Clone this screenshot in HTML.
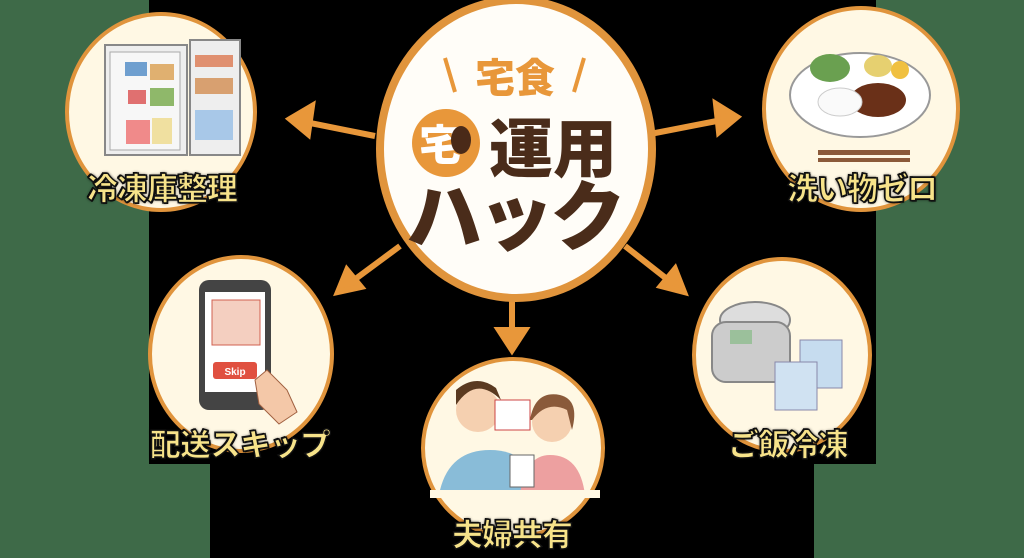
<!DOCTYPE html>
<html><head><meta charset="utf-8"><style>
body{margin:0;width:1024px;height:558px;overflow:hidden;background:#3e6a48;position:relative;font-family:"Liberation Sans","Noto Sans CJK JP",sans-serif}
.b{position:absolute;background:#000}
.c{position:absolute;border-radius:50%;background:#fff8e4;border:4px solid #e0943c;box-sizing:border-box}
.l{position:absolute;font-family:"Noto Sans CJK JP",sans-serif;font-weight:900;color:#f7e38a;font-size:31px;-webkit-text-stroke:1.5px #111;text-shadow:0 0 3px #000,1px 1px 0 #000,-1px -1px 0 #000;white-space:nowrap;transform:translateX(-50%);letter-spacing:-1px;line-height:1.2}
</style></head><body>
<div class="b" style="left:149px;top:0;width:727px;height:464px"></div>
<div class="b" style="left:210px;top:464px;width:604px;height:94px"></div>
<svg style="position:absolute;left:0;top:0" width="1024" height="558">
<g stroke="#e8973a" stroke-width="6" fill="#e8973a">
<line x1="375" y1="136" x2="305" y2="122"/><polygon points="290,119 312,106 308,134"/>
<line x1="650" y1="134" x2="722" y2="120"/><polygon points="737,117 716,104 719,132"/>
<line x1="400" y1="246" x2="350" y2="283"/><polygon points="338,292 347,270 361,287"/>
<line x1="625" y1="246" x2="672" y2="283"/><polygon points="684,292 661,286 675,269"/>
<line x1="512" y1="298" x2="512" y2="335"/><polygon points="512,350 499,330 525,330"/>
</g></svg>
<div class="c" style="left:65px;top:12px;width:192px;height:200px"></div>
<div class="c" style="left:762px;top:6px;width:198px;height:206px"></div>
<div class="c" style="left:148px;top:255px;width:186px;height:198px"></div>
<div class="c" style="left:692px;top:257px;width:180px;height:196px"></div>
<div class="c" style="left:421px;top:357px;width:184px;height:182px"></div>
<div class="c" style="left:376px;top:-4px;width:280px;height:306px;border-width:8px;background:#fffdf8"></div>
<svg style="position:absolute;left:0;top:0" width="1024" height="558">
<rect x="105" y="45" width="82" height="110" fill="#eee" stroke="#888" stroke-width="2"/>
<rect x="110" y="52" width="70" height="98" fill="#f7f7f7" stroke="#aaa"/>
<rect x="125" y="62" width="22" height="14" fill="#6f9fcf"/><rect x="150" y="64" width="24" height="16" fill="#e0b070"/>
<rect x="128" y="90" width="18" height="14" fill="#e07070"/><rect x="150" y="88" width="24" height="18" fill="#8fb86a"/>
<rect x="126" y="120" width="24" height="24" fill="#f08a8a"/><rect x="152" y="118" width="20" height="26" fill="#f0e0a0"/>
<rect x="190" y="40" width="50" height="115" fill="#eee" stroke="#888" stroke-width="2"/>
<rect x="195" y="55" width="38" height="12" fill="#e09070"/><rect x="195" y="78" width="38" height="16" fill="#d8a070"/>
<rect x="195" y="110" width="38" height="30" fill="#a8c8e8"/>
<ellipse cx="860" cy="95" rx="70" ry="42" fill="#fff" stroke="#999" stroke-width="2"/>
<ellipse cx="830" cy="68" rx="20" ry="14" fill="#6aa050"/><ellipse cx="878" cy="66" rx="14" ry="11" fill="#e6d070"/><circle cx="900" cy="70" r="9" fill="#f0c040"/>
<ellipse cx="878" cy="100" rx="28" ry="17" fill="#6a3018"/><ellipse cx="840" cy="102" rx="22" ry="14" fill="#fafafa" stroke="#ccc"/>
<rect x="818" y="150" width="92" height="5" fill="#8b5a3a"/><rect x="818" y="158" width="92" height="4" fill="#8b5a3a"/>
<rect x="199" y="280" width="72" height="130" rx="10" fill="#444"/><rect x="205" y="292" width="60" height="100" fill="#fff"/>
<rect x="212" y="300" width="48" height="45" fill="#f4cfc0" stroke="#d06050"/>
<rect x="213" y="362" width="44" height="17" rx="3" fill="#e05040"/>
<text x="235" y="375" font-size="10" fill="#fff" text-anchor="middle" font-weight="bold">Skip</text>
<path d="M255 380 l12 -10 l20 20 l10 22 l-18 12 l-20 -20z" fill="#f4c8a8" stroke="#a06040"/>
<ellipse cx="755" cy="320" rx="35" ry="18" fill="#ddd" stroke="#888" stroke-width="2"/>
<rect x="712" y="322" width="78" height="60" rx="14" fill="#ccc" stroke="#888" stroke-width="2"/>
<rect x="730" y="330" width="22" height="14" fill="#9bc09b"/>
<rect x="800" y="340" width="42" height="48" fill="#c6dcef" stroke="#88a"/><rect x="775" y="362" width="42" height="48" fill="#d0e2f2" stroke="#88a"/>
<path d="M440 490 q10 -40 50 -40 q40 0 45 40z" fill="#89bcd8"/><circle cx="478" cy="410" r="22" fill="#f5d0b0"/><path d="M456 405 q20 -30 45 -5 l-5 -12 q-20 -15 -40 2z" fill="#5a3a20"/>
<rect x="495" y="400" width="35" height="30" fill="#fff" stroke="#c44"/>
<path d="M520 495 q5 -40 30 -40 q30 0 35 40z" fill="#eda0a0"/><circle cx="552" cy="422" r="20" fill="#f5d0b0"/><path d="M530 420 q5 -30 30 -25 q20 5 12 35 l-5 -20 q-20 -10 -35 10z" fill="#8a5a3a"/>
<rect x="510" y="455" width="24" height="32" fill="#fff" stroke="#666"/>
<rect x="430" y="490" width="170" height="8" fill="#fff8e4"/>
<line x1="445" y1="58" x2="455" y2="92" stroke="#e8973a" stroke-width="4"/>
<line x1="584" y1="58" x2="574" y2="92" stroke="#e8973a" stroke-width="4"/>
<text x="515" y="92" font-size="40" font-weight="900" fill="#e8973a" text-anchor="middle" font-family="Noto Sans CJK JP">宅食</text>
<circle cx="446" cy="143" r="34" fill="#e8973a"/>
<text x="440" y="160" font-size="42" font-weight="900" fill="#fff" text-anchor="middle" font-family="Noto Sans CJK JP">宅</text>
<ellipse cx="461" cy="140" rx="10" ry="14" fill="#4a2a18"/>
<text x="553" y="172" font-size="64" font-weight="900" fill="#4a2c1a" text-anchor="middle" font-family="Noto Sans CJK JP">運用</text>
<text x="514" y="244" font-size="76" font-weight="900" fill="#4a2c1a" text-anchor="middle" font-family="Noto Sans CJK JP" letter-spacing="-4">ハック</text>
</svg>
<div class="l" style="left:162px;top:168px">冷凍庫整理</div>
<div class="l" style="left:862px;top:168px">洗い物ゼロ</div>
<div class="l" style="left:240px;top:424px">配送スキップ</div>
<div class="l" style="left:788px;top:424px">ご飯冷凍</div>
<div class="l" style="left:512px;top:514px">夫婦共有</div>
</body></html>
